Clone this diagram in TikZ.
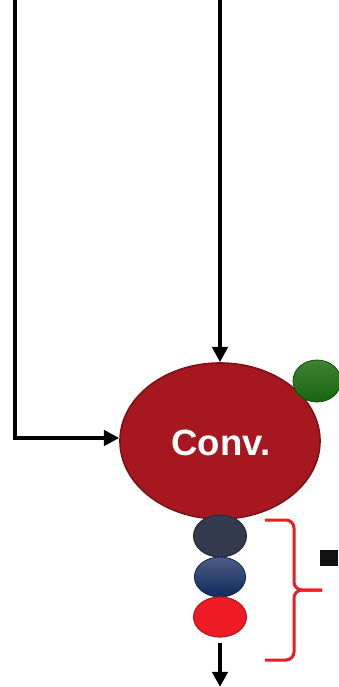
\documentclass[tikz,border=0pt]{standalone}
\usepackage{fontspec}
\setmainfont{Liberation Sans}
\usetikzlibrary{arrows.meta,shapes.geometric,calc}
\definecolor{convred}{HTML}{A6171F}
\definecolor{convedge}{HTML}{7A1117}
\definecolor{bnslate}{HTML}{333A4D}
\definecolor{reluhi}{HTML}{4C5D85}
\definecolor{relulo}{HTML}{0F2A5C}
\definecolor{poolred}{HTML}{ED1C24}
\definecolor{biashi}{HTML}{3F8230}
\definecolor{biaslo}{HTML}{176510}
\definecolor{black}{HTML}{111111}

\begin{document}
\begin{tikzpicture}[x=0.025cm, y=-0.025cm,
   flow/.style={line width=0.1cm, -{Triangle[length=0.38cm, width=0.38cm]}},
   brace/.style={draw=poolred, line width=0.075cm, rounded corners=0.2cm}]
   \useasboundingbox (0,0) rectangle (338,687);

   % coords
   \coordinate (TL) at (15,0);
   \coordinate (TC) at (220,0);
   \coordinate (BL) at (15,438);
   \coordinate (BO) at (220,687);

   % blocks
   \node[ellipse, minimum width=5cm, minimum height=3.9cm, inner sep=0pt,
         fill=convred, draw=convedge, line width=0.04cm] (conv) at (220,441) {};
   \node[text=white, font=\bfseries\fontsize{26}{26}\selectfont] (label) at (221,443) {Conv.};
   \node[ellipse, minimum width=1.2cm, minimum height=1.05cm, inner sep=0pt,
         top color=biashi, bottom color=biaslo, draw=biaslo!70!black, line width=0.02cm] (bias) at (317,381) {};
   \node[ellipse, minimum width=1.32cm, minimum height=1.05cm, inner sep=0pt,
         fill=bnslate, draw=bnslate!70!black, line width=0.03cm] (norm) at (220,536) {};
   \node[ellipse, minimum width=1.28cm, minimum height=1cm, inner sep=0pt,
         top color=reluhi, bottom color=relulo, draw=relulo!80!black, line width=0.02cm] (relu) at (220,577) {};
   \node[ellipse, minimum width=1.32cm, minimum height=1cm, inner sep=0pt,
         fill=poolred, draw=poolred!75!black, line width=0.03cm] (pool) at (220,617) {};
   \coordinate (PO) at (220,643);

   % connectors
   \draw[flow] (TC) -- (conv.north);
   \draw[line width=0.1cm, line join=round] (TL) -- (BL);
   \draw[flow] ($(BL)+(-2,0)$) -- (conv.west |- BL);
   \draw[flow] (PO) -- (BO);

   % brace and mark
   \coordinate (tip) at (322,590);
   \draw[brace] (265,520) -- (294,520) -- (294,590) -- (tip);
   \draw[brace] (265,660) -- (294,660) -- (294,590) -- (tip);
   \fill[black] (320,550) rectangle (338,566);
\end{tikzpicture}
\end{document}
